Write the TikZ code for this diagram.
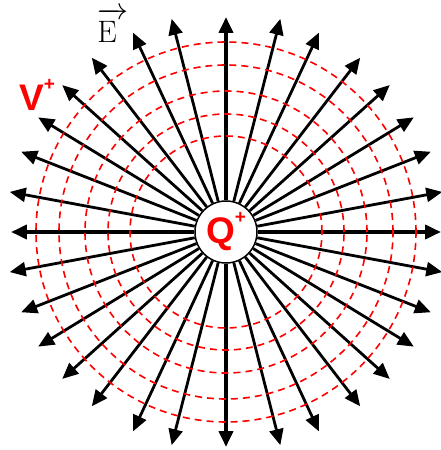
\documentclass[tikz,border=0pt]{standalone}
\usepackage{amssymb,amsmath}
\usepackage{fix-cm}
\usepackage{fontspec}
\newfontfamily\rotulofonte{Liberation Sans}
\usepackage{tikz}
\usetikzlibrary{arrows.meta}
\usepackage{xcolor}
\definecolor{vermelho}{HTML}{FF0000}

\begin{document}
\begin{tikzpicture}[
    x=1pt, y=1pt,
    >={Triangle[length=16pt, width=14pt]},
    carga/.style={draw, circle, line width=1.5pt, fill=white,
                  minimum size=62pt, inner sep=0pt, text=vermelho,
                  font=\rotulofonte\bfseries\fontsize{37}{37}\selectfont},
    linhacampo/.style={->, line width=2.8pt},
    eixo/.style={->, line width=3.8pt},
    equipot/.style={draw=vermelho, line width=1.6pt, dash pattern=on 7pt off 5pt},
    rotulo/.style={inner sep=0pt}
  ]
    \useasboundingbox (-226,-218) rectangle (215,232);

    % --- Carga central ---
    \node[carga] (q) at (0,0) {Q\raisebox{20pt}{\fontsize{19}{19}\selectfont +}};

    % --- Linhas de campo (diagonais) ---
    \foreach \a [count=\i] in {10.5,21.4,31.4,41.9,52.4,65,75.7} {
      \foreach \b [count=\k] in {\a,180-\a,180+\a,360-\a} {
        \coordinate (p\i-\k) at (\b:220);
        \draw[linhacampo] (q) -- (p\i-\k);
      }
    }

    % --- Linhas de campo (eixos) ---
    \foreach \b [count=\k] in {0,90,180,270} {
      \coordinate (ponta\k) at (\b:215);
      \draw[eixo] (q) -- (ponta\k);
    }

    % --- Superficies equipotenciais ---
    \foreach \r in {96,118,141,167,190}
      \draw[equipot] (q.center) circle (\r);

    % --- Rotulos ---
    \node[rotulo, text=vermelho, font=\rotulofonte\bfseries\fontsize{37}{37}\selectfont]
      (rotV) at (-189,137) {V\raisebox{20pt}{\fontsize{19}{19}\selectfont +}};
    \node[rotulo, anchor=base, font=\fontsize{31}{31}\selectfont]
      (rotE) at (-119,189) {\rlap{\raisebox{23pt}{\hbox to 21pt{\rightarrowfill}}}E};

  \end{tikzpicture}
\end{document}
